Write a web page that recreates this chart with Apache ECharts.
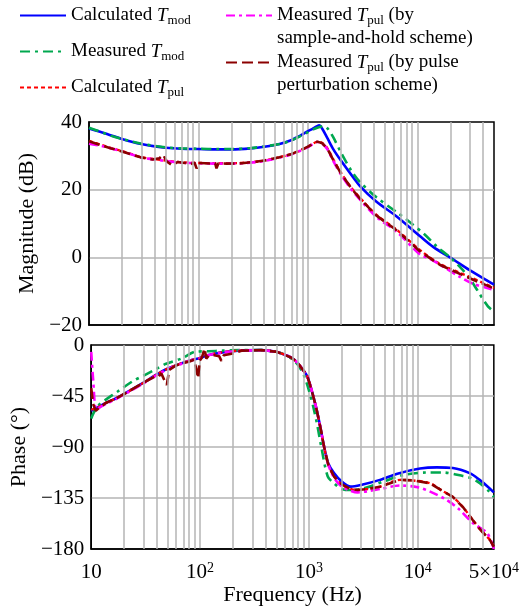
<!DOCTYPE html>
<html><head><meta charset="utf-8">
<script src="https://cdn.jsdelivr.net/npm/echarts@6/dist/echarts.min.js"></script>
<style>html,body{margin:0;padding:0;background:#fff}#c{width:522px;height:609px}</style>
</head><body><div id="c"></div><script>
// ---------- Data (frequency in Hz, magnitude in dB, phase in degrees) ----------
const xTickValues = [10, 100, 1000, 10000, 50000];
const magTicks = [-20, 0, 20, 40];
const phaseTicks = [-180, -135, -90, -45, 0];

// Calculated T_mod
const calcTmodMagF = [10, 13, 16, 20, 25, 30, 40, 50, 70, 100, 150, 200, 300, 400, 550, 700, 850, 1000, 1100, 1200, 1270, 1350, 1500, 1700, 2000, 2500, 3000, 4200, 6500, 10500, 14000, 19800, 30000, 50000];
const calcTmodMag  = [38.1, 37.0, 36.0, 35.0, 34.1, 33.5, 32.8, 32.4, 32.1, 32.0, 31.9, 31.9, 32.2, 32.7, 33.5, 34.6, 36.0, 37.3, 38.0, 38.7, 39.0, 38.0, 35.3, 32.0, 28.6, 24.3, 21.0, 16.5, 12.0, 6.3, 3.0, 0.0, -3.8, -8.1];
// Measured T_mod
const measTmodMagF = [10, 13, 16, 20, 25, 30, 40, 50, 70, 100, 150, 200, 300, 400, 550, 700, 850, 1000, 1150, 1300, 1400, 1500, 1700, 2000, 2500, 3000, 4200, 6500, 8000, 11700, 15000, 19800, 25000, 30000, 35000, 44000, 50000];
const measTmodMag  = [38.3, 37.0, 35.9, 35.0, 34.2, 33.6, 32.9, 32.5, 32.2, 32.1, 32.0, 32.0, 32.3, 32.8, 33.5, 34.5, 35.8, 37.0, 38.0, 38.6, 38.8, 38.2, 35.5, 31.0, 25.5, 22.2, 17.8, 13.3, 11.1, 6.7, 3.2, 0.0, -3.2, -6.2, -9.6, -14.5, -16.0];
// Calculated T_pul
const calcTpulMagF = [10, 13, 16, 20, 25, 30, 40, 50, 60, 70, 100, 150, 200, 300, 400, 550, 700, 850, 1000, 1100, 1220, 1350, 1500, 1700, 2000, 2500, 3000, 4200, 6500, 10500, 16000, 30000, 50000];
const calcTpulMag  = [34.4, 33.2, 32.3, 31.4, 30.4, 29.6, 29.0, 28.6, 28.3, 28.1, 27.9, 27.8, 27.8, 28.1, 28.6, 29.6, 30.5, 31.6, 32.7, 33.5, 34.2, 33.8, 32.3, 29.0, 25.0, 20.5, 17.5, 12.6, 8.1, 2.2, -1.9, -5.8, -9.0];
// Measured T_pul (sample-and-hold)
const shTpulMagF = [10, 13, 16, 20, 25, 30, 40, 50, 60, 70, 100, 150, 200, 300, 400, 550, 700, 850, 1000, 1100, 1220, 1350, 1500, 1700, 2000, 2500, 3000, 4200, 6500, 10500, 13000, 24400, 32000, 50000];
const shTpulMag  = [33.6, 32.9, 32.2, 31.3, 30.3, 29.5, 28.9, 28.5, 28.2, 28.0, 27.8, 27.7, 27.7, 28.0, 28.5, 29.5, 30.4, 31.5, 32.6, 33.4, 34.1, 33.6, 32.0, 28.5, 24.5, 20.0, 17.0, 12.0, 7.5, 0.9, -0.4, -5.8, -7.8, -9.6];
// Measured T_pul (pulse perturbation)
const ppTpulMagF = [10, 13, 16, 20, 25, 30, 38, 44, 47.7, 51, 57, 65, 75, 85, 92, 96, 101, 115, 130, 142, 146, 152, 180, 250, 300, 400, 550, 700, 850, 1000, 1100, 1220, 1350, 1500, 1700, 2000, 2500, 3000, 4200, 6500, 10500, 16000, 30000, 50000];
const ppTpulMag  = [34.3, 33.1, 32.2, 31.3, 30.3, 29.5, 28.9, 29.3, 30.3, 28.4, 27.3, 28.2, 27.9, 27.6, 28.0, 26.3, 27.9, 27.8, 27.7, 27.8, 26.3, 27.8, 27.7, 27.8, 28.1, 28.6, 29.6, 30.5, 31.6, 32.7, 33.5, 34.2, 33.7, 32.2, 28.8, 24.8, 20.3, 17.3, 12.4, 7.9, 1.8, -2.2, -6.2, -9.2];

// Phase
const calcTmodPhF = [10, 11, 13.7, 17, 22, 30, 40, 50, 68, 84, 100, 120, 160, 240, 365, 500, 555, 685, 790, 906, 970, 1060, 1160, 1270, 1380, 1500, 1700, 2000, 2420, 3000, 4500, 6500, 10500, 15000, 21000, 30000, 37000, 44000, 50000];
const calcTmodPh  = [-58, -56, -51, -47, -41, -33.5, -26, -21, -16, -13.2, -11.5, -8.8, -6.5, -4.8, -4.5, -6, -7.4, -11, -16, -23.5, -28, -40, -54.4, -72, -90, -104, -113, -120.5, -125, -123.5, -119, -113.5, -109, -108, -108.5, -113, -119, -125, -130];
const measTmodPhF = [10, 10.5, 12, 13.7, 17.5, 24, 31, 40, 48, 68, 90, 120, 160, 240, 365, 500, 600, 700, 800, 900, 1000, 1100, 1200, 1300, 1490, 1700, 2000, 2500, 3200, 5000, 7400, 12000, 17000, 26000, 32000, 37200, 44000, 50000];
const measTmodPh  = [-65, -60, -52, -48, -41, -32, -26.5, -21, -16.8, -11.8, -6, -5.5, -5, -4.5, -4.5, -6, -8.5, -12.5, -18, -27, -40, -55, -72, -90, -116, -122, -127, -128, -126.5, -120, -114.7, -112.5, -112.5, -115.6, -118, -122, -128, -134];
const calcTpulPhF = [10, 11, 13.7, 17, 22, 30, 40, 50, 68, 84, 100, 120, 160, 240, 365, 500, 555, 685, 790, 906, 970, 1060, 1160, 1270, 1380, 1500, 1700, 2000, 2400, 2800, 3500, 4500, 6900, 9000, 13000, 17000, 21000, 26000, 32000, 38000, 46000, 50000];
const calcTpulPh  = [-57, -56, -51, -47, -41, -33.5, -26, -21, -16, -13.2, -11.5, -8.8, -6.5, -4.8, -4.5, -6, -7.4, -11, -16, -23.5, -28, -40, -54.4, -72, -90, -105, -116, -123, -127, -128, -127, -125, -119, -119.5, -122, -129, -134, -143, -154.4, -163.5, -172, -178];
const shTpulPhF = [10, 10.4, 11.1, 12, 13.7, 17, 22, 30, 40, 50, 68, 84, 100, 120, 160, 240, 365, 500, 555, 685, 790, 906, 970, 1060, 1160, 1270, 1380, 1500, 1700, 2000, 2400, 2800, 3500, 4550, 6900, 10000, 13000, 18500, 24000, 32000, 43500, 50000];
const shTpulPh  = [-6, -30, -57, -55, -52, -47.5, -41.5, -34, -26.5, -21.5, -16.5, -13.5, -11.8, -9, -6.8, -5, -4.7, -6, -7.4, -11, -16, -23.5, -28, -40, -54.4, -72, -90, -105, -117, -125, -128.5, -130, -129, -127, -124, -125.5, -129.4, -136.8, -145, -157, -166, -180];
const ppTpulPhF = [10, 10.4, 11, 12, 13.7, 17, 22, 30, 38, 41.5, 44, 47, 49.5, 52, 60, 70, 80, 88, 92, 96, 99, 104, 110, 114, 120, 135, 150, 157, 165, 200, 240, 365, 500, 555, 685, 790, 906, 970, 1060, 1160, 1270, 1380, 1500, 1700, 2000, 2400, 2800, 3500, 4500, 6900, 9000, 13000, 17000, 21000, 26000, 32000, 38000, 46000, 50000];
const ppTpulPh  = [-38, -52, -58, -55, -51, -47, -41, -33.5, -28, -28, -25, -31, -35.3, -22, -18, -16, -14.5, -13, -20.6, -29.4, -14, -11, -3, -12, -9.5, -9, -10, -14, -9, -7.5, -5, -4.5, -6, -7.4, -11, -16, -23.5, -28, -40, -54.4, -72, -90, -105, -116, -123, -127, -128, -127, -125, -119, -119.5, -122, -129, -134, -143, -154.4, -163.5, -172, -178];

// ---------- Chart ----------
const FONT = '"Liberation Serif", "Times New Roman", serif';
const lg = Math.log10;
const pts = (F, V) => F.map((f, i) => [lg(f), V[i]]);
const xMin = lg(xTickValues[0]), xMax = lg(xTickValues[xTickValues.length - 1]);
const GRIDC = '#b4b4b4';

// minor log grid positions (2..9 x decade)
const minor = [];
for (let d = 1; d <= 4; d++) for (let k = 2; k <= 9; k++) {
  const v = lg(k * Math.pow(10, d));
  if (v < xMax - 1e-6) minor.push({ xAxis: v });
}

const names = ['calcTmod', 'measTmod', 'calcTpul', 'shTpul', 'ppTpul'];
const labels = {
  calcTmod: 'Calculated {i|T}{sub|mod}',
  measTmod: 'Measured {i|T}{sub|mod}',
  calcTpul: 'Calculated {i|T}{sub|pul}',
  shTpul: 'Measured {i|T}{sub|pul} (by\nsample-and-hold scheme)',
  ppTpul: 'Measured {i|T}{sub|pul} (by pulse\nperturbation scheme)'
};
const styles = {
  calcTmod: { color: '#0000ff', type: 'solid', width: 2.6 },
  measTmod: { color: '#00a84f', type: [10, 5, 3, 5], width: 2.6 },
  calcTpul: { color: '#ff0000', type: [4, 3], width: 2.4 },
  shTpul:   { color: '#ff00ff', type: [9, 4, 3, 4], width: 2.6 },
  ppTpul:   { color: '#8b0000', type: [11, 5], width: 2.6 }
};
const magData = {
  calcTmod: pts(calcTmodMagF, calcTmodMag), measTmod: pts(measTmodMagF, measTmodMag),
  calcTpul: pts(calcTpulMagF, calcTpulMag), shTpul: pts(shTpulMagF, shTpulMag), ppTpul: pts(ppTpulMagF, ppTpulMag)
};
const phData = {
  calcTmod: pts(calcTmodPhF, calcTmodPh), measTmod: pts(measTmodPhF, measTmodPh),
  calcTpul: pts(calcTpulPhF, calcTpulPh), shTpul: pts(shTpulPhF, shTpulPh), ppTpul: pts(ppTpulPhF, ppTpulPh)
};

const rich = {
  i: { fontFamily: FONT, fontSize: 19, fontStyle: 'italic', lineHeight: 23 },
  sub: { fontFamily: FONT, fontSize: 13, lineHeight: 13, verticalAlign: 'bottom' }
};
const legendBase = {
  orient: 'vertical', itemWidth: 46, itemHeight: 14, padding: 0, selectedMode: false,
  itemStyle: { opacity: 0, borderWidth: 0 },
  formatter: n => labels[n],
  textStyle: { fontFamily: FONT, fontSize: 19, color: '#000', lineHeight: 23, rich }
};

function xAxisCfg(idx, showLabels) {
  return {
    type: 'value', gridIndex: idx, min: xMin, max: xMax, interval: 1,
    axisLine: { show: true, onZero: false, lineStyle: { color: '#000', width: 1.5 } },
    axisTick: { show: false },
    splitLine: { show: true, showMinLine: false, showMaxLine: false, lineStyle: { color: GRIDC, width: 1.5 } },
    axisLabel: showLabels ? {
      show: true, margin: 12, showMaxLabel: true, showMinLabel: true,
      fontFamily: FONT, fontSize: 21, color: '#000', lineHeight: 22,
      formatter: v => {
        const e = Math.floor(v + 1e-9), m = Math.round(Math.pow(10, v - e));
        if (m === 1) return e === 1 ? '10' : '10{sup|' + e + '}';
        return m + '\u00d710{sup|' + e + '}';
      },
      rich: { sup: { fontFamily: FONT, fontSize: 14, lineHeight: 12, verticalAlign: 'top' } }
    } : { show: false },
    name: showLabels ? 'Frequency (Hz)' : '', nameLocation: 'middle', nameGap: 34,
    nameTextStyle: { fontFamily: FONT, fontSize: 22, color: '#000' }
  };
}
function yAxisCfg(idx, min, max, interval, name) {
  return {
    type: 'value', gridIndex: idx, min, max, interval,
    axisLine: { show: true, lineStyle: { color: '#000', width: 1.5 } },
    axisTick: { show: false },
    splitLine: { show: true, showMinLine: false, showMaxLine: false, lineStyle: { color: GRIDC, width: 1.5 } },
    axisLabel: { margin: 7, fontFamily: FONT, fontSize: 21, color: '#000', formatter: v => String(v).replace('-', '\u2212') },
    name, nameLocation: 'middle', nameGap: 50,
    nameTextStyle: { fontFamily: FONT, fontSize: 22, color: '#000' }
  };
}

const series = [];
[0, 1].forEach(g => {
  series.push({
    type: 'line', name: 'grid' + g, xAxisIndex: g, yAxisIndex: g, data: [], z: 1, silent: true,
    markLine: { silent: true, symbol: ['none', 'none'], animation: false, label: { show: false },
      lineStyle: { color: GRIDC, width: 1.5, type: 'solid' }, emphasis: { disabled: true }, data: minor }
  });
  names.forEach(n => {
    series.push({
      type: 'line', name: n, xAxisIndex: g, yAxisIndex: g, z: 3,
      data: g === 0 ? magData[n] : phData[n],
      symbol: 'none', showSymbol: false, smooth: n === 'ppTpul' ? false : 0.3,
      lineStyle: styles[n], itemStyle: { color: styles[n].color },
      emphasis: { disabled: true }
    });
  });
});

const chart = echarts.init(document.getElementById('c'), null, { renderer: 'canvas' });
chart.setOption({
  animation: false,
  backgroundColor: '#fff',
  grid: [
    { left: 89, top: 122, width: 405, height: 203, show: true, borderColor: '#000', borderWidth: 1.5, backgroundColor: 'transparent' },
    { left: 89, top: 345, width: 405, height: 204, show: true, borderColor: '#000', borderWidth: 1.5, backgroundColor: 'transparent' }
  ],
  xAxis: [xAxisCfg(0, false), xAxisCfg(1, true)],
  yAxis: [
    yAxisCfg(0, magTicks[0], magTicks[magTicks.length - 1], 20, 'Magnitude (dB)'),
    yAxisCfg(1, phaseTicks[0], phaseTicks[phaseTicks.length - 1], 45, 'Phase (\u00b0)')
  ],
  legend: [
    Object.assign({}, legendBase, { left: 19, top: 4, itemGap: 13, data: ['calcTmod', 'measTmod', 'calcTpul'] }),
    Object.assign({}, legendBase, { left: 225, top: -19, data: ['shTpul'],
      textStyle: Object.assign({}, legendBase.textStyle, { padding: [23, 0, 0, 0] }) }),
    Object.assign({}, legendBase, { left: 225, top: 28, data: ['ppTpul'],
      textStyle: Object.assign({}, legendBase.textStyle, { padding: [23, 0, 0, 0] }) })
  ],
  series
});
</script></body></html>
